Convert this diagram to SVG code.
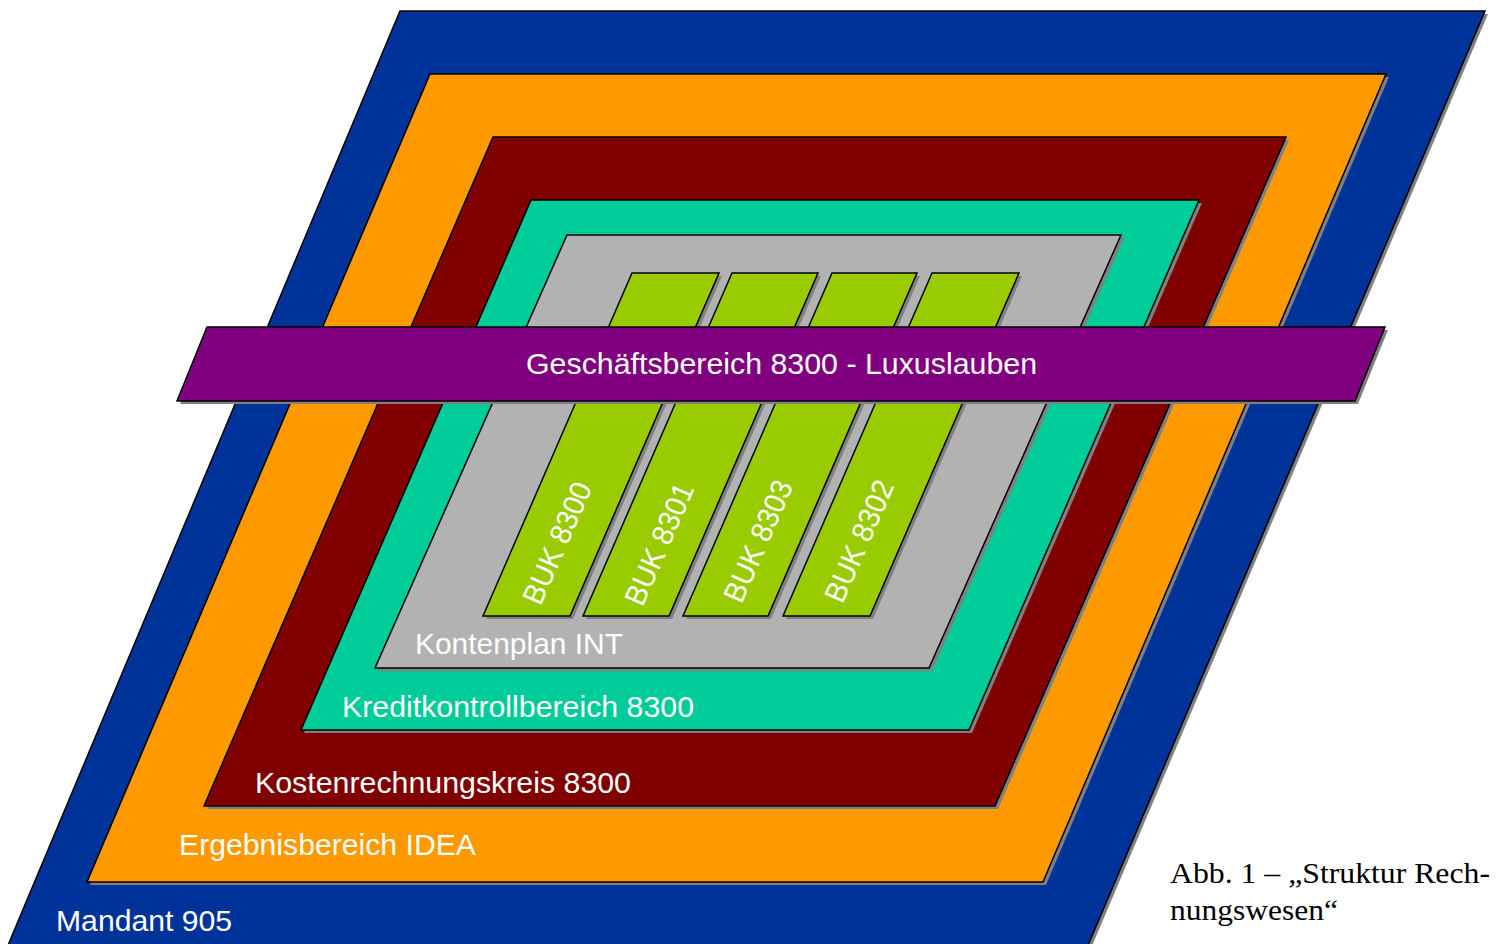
<svg xmlns="http://www.w3.org/2000/svg" width="1498" height="944" viewBox="0 0 1498 944">
<style>
.sh{fill:#808080;stroke:none}
.ln{stroke:#000;stroke-width:1.5;stroke-linejoin:miter}
.lbl{font-family:"Liberation Sans",Arial,sans-serif;fill:#fff;font-size:30px}
.buk{font-family:"Liberation Sans",Arial,sans-serif;fill:#fff;font-size:30px;text-anchor:middle;dominant-baseline:central}
.cap{font-family:"Liberation Serif","Times New Roman",serif;fill:#000;font-size:29px}
</style>
<rect width="1498" height="944" fill="#fff"/>
<g id="mandant">
<polygon class="sh" points="403,14 1488,14 1089,953 9,953"/>
<polygon class="ln" fill="#003399" points="400,11 1485,11 1086,950 6,950"/>
<text class="lbl" x="56" y="931" textLength="176" lengthAdjust="spacingAndGlyphs">Mandant 905</text>
</g>
<g id="ergebnisbereich">
<polygon class="sh" points="433,77 1389,77 1046,885 90,885"/>
<polygon class="ln" fill="#FF9900" points="430,74 1386,74 1043,882 87,882"/>
<text class="lbl" x="179" y="855" textLength="297" lengthAdjust="spacingAndGlyphs">Ergebnisbereich IDEA</text>
</g>
<g id="kostenrechnungskreis">
<polygon class="sh" points="496,140 1289,140 998,809 207,809"/>
<polygon class="ln" fill="#800000" points="493,137 1286,137 995,806 204,806"/>
<text class="lbl" x="255" y="793" textLength="376" lengthAdjust="spacingAndGlyphs">Kostenrechnungskreis 8300</text>
</g>
<g id="kreditkontrollbereich">
<polygon class="sh" points="534,203 1202,203 972,733 304,733"/>
<polygon class="ln" fill="#00CC99" points="531,200 1199,200 969,730 301,730"/>
<text class="lbl" x="342" y="717" textLength="352" lengthAdjust="spacingAndGlyphs">Kreditkontrollbereich 8300</text>
</g>
<g id="kontenplan">
<polygon class="sh" points="570,238 1124,238 932,671 378,671"/>
<polygon class="ln" fill="#B2B2B2" points="567,235 1121,235 929,668 375,668"/>
<text class="lbl" x="415" y="654" textLength="208" lengthAdjust="spacingAndGlyphs">Kontenplan INT</text>
</g>
<g id="buk8300">
<polygon class="sh" points="635,276 722,276 573,619 486,619"/>
<polygon class="ln" fill="#99CC00" points="632,273 719,273 570,616 483,616"/>
<text class="buk" transform="rotate(-66.4 557 543)" x="557" y="543" textLength="130" lengthAdjust="spacingAndGlyphs">BUK 8300</text>
</g>
<g id="buk8301">
<polygon class="sh" points="735,276 821,276 672,619 586,619"/>
<polygon class="ln" fill="#99CC00" points="732,273 818,273 669,616 583,616"/>
<text class="buk" transform="rotate(-66.4 659 544)" x="659" y="544" textLength="130" lengthAdjust="spacingAndGlyphs">BUK 8301</text>
</g>
<g id="buk8303">
<polygon class="sh" points="835,276 920,276 771,619 686,619"/>
<polygon class="ln" fill="#99CC00" points="832,273 917,273 768,616 683,616"/>
<text class="buk" transform="rotate(-66.4 758 541)" x="758" y="541" textLength="130" lengthAdjust="spacingAndGlyphs">BUK 8303</text>
</g>
<g id="buk8302">
<polygon class="sh" points="935,276 1022,276 873,619 786,619"/>
<polygon class="ln" fill="#99CC00" points="932,273 1019,273 870,616 783,616"/>
<text class="buk" transform="rotate(-66.4 859 541)" x="859" y="541" textLength="130" lengthAdjust="spacingAndGlyphs">BUK 8302</text>
</g>
<g id="geschaeftsbereich">
<polygon class="sh" points="210,330 1388,330 1358,404 180,404"/>
<polygon class="ln" fill="#800080" points="207,327 1385,327 1355,401 177,401"/>
<text class="lbl" x="526" y="374" textLength="511" lengthAdjust="spacingAndGlyphs">Geschäftsbereich 8300 - Luxuslauben</text>
</g>
<g id="connectors"/>
<g id="caption">
<text class="cap" x="1170" y="883" textLength="320" lengthAdjust="spacingAndGlyphs">Abb. 1 – „Struktur Rech-</text>
<text class="cap" x="1170" y="920" textLength="168" lengthAdjust="spacingAndGlyphs">nungswesen“</text>
</g>
</svg>
